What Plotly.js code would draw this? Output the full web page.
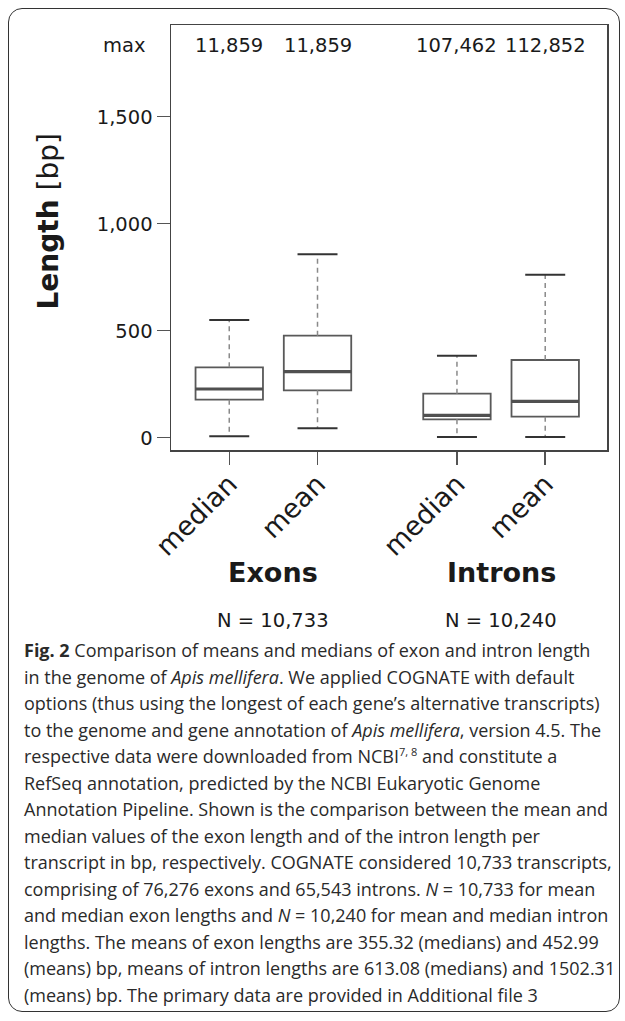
<!DOCTYPE html>
<html>
<head>
<meta charset="utf-8">
<script src="https://cdn.plot.ly/plotly-3.0.1.min.js"></script>
<style>
  html, body { margin: 0; padding: 0; background: #fff; }
  #wrap { position: relative; width: 625px; height: 1021px; overflow: hidden; }
  #frame { position: absolute; left: 8px; top: 8px; width: 612px; height: 1004px;
           border: 1.5px solid #333; border-radius: 14px; box-sizing: border-box; }
  #plot { position: absolute; left: 0; top: 0; width: 625px; height: 640px; }
  #caption { position: absolute; left: 24px; top: 637px; width: 596px;
             font-family: "Open Sans", "Noto Sans", sans-serif; font-size: 18px; line-height: 26.5px;
             color: #2a2a2a; letter-spacing: 0; }
  #caption div { white-space: nowrap; }
  #caption sup { font-size: 11px; line-height: 0; vertical-align: 7px; }
</style>
</head>
<body>
<div id="wrap">
  <div id="frame"></div>
  <div id="plot"></div>
  <div id="caption">
    <div><b>Fig. 2</b> Comparison of means and medians of exon and intron length</div>
    <div>in the genome of <i>Apis mellifera</i>. We applied COGNATE with default</div>
    <div>options (thus using the longest of each gene’s alternative transcripts)</div>
    <div>to the genome and gene annotation of <i>Apis mellifera</i>, version 4.5. The</div>
    <div>respective data were downloaded from NCBI<sup>7, 8</sup> and constitute a</div>
    <div>RefSeq annotation, predicted by the NCBI Eukaryotic Genome</div>
    <div>Annotation Pipeline. Shown is the comparison between the mean and</div>
    <div>median values of the exon length and of the intron length per</div>
    <div>transcript in bp, respectively. COGNATE considered 10,733 transcripts,</div>
    <div>comprising of 76,276 exons and 65,543 introns. <i>N</i> = 10,733 for mean</div>
    <div>and median exon lengths and <i>N</i> = 10,240 for mean and median intron</div>
    <div>lengths. The means of exon lengths are 355.32 (medians) and 452.99</div>
    <div>(means) bp, means of intron lengths are 613.08 (medians) and 1502.31</div>
    <div>(means) bp. The primary data are provided in Additional file 3</div>
  </div>
</div>
<script>
// ---- data ----
const categories = ["median", "mean", "median", "mean"];
const positions = [1, 2, 3.58, 4.58];
const lowerWhisker = [6.5, 44, 3, 3];
const q1 = [177.6, 221.5, 86, 98];
const medianVals = [227.6, 308.4, 104.5, 170];
const q3 = [329, 476.6, 205.6, 363];
const upperWhisker = [550, 857, 383, 761.7];
const maxLabels = ["11,859", "11,859", "107,462", "112,852"];
const groupNames = ["Exons", "Introns"];
const groupN = ["N = 10,733", "N = 10,240"];
const yTickVals = [0, 500, 1000, 1500];
const yTickText = ["0", "500", "1,000", "1,500"];

// ---- styles ----
const FONT = "DejaVu Sans";
const boxW = 0.764;
const capW = 0.453;
const traces = [];

positions.forEach((p, i) => {
  traces.push({
    type: "scatter", mode: "lines", hoverinfo: "skip", showlegend: false,
    x: [p, p, null, p, p],
    y: [q3[i], upperWhisker[i], null, q1[i], lowerWhisker[i]],
    line: { color: "#8a8a8a", width: 1.5, dash: "5px,4px" }
  });
  traces.push({
    type: "scatter", mode: "lines", hoverinfo: "skip", showlegend: false,
    x: [p - capW / 2, p + capW / 2, null, p - capW / 2, p + capW / 2],
    y: [upperWhisker[i], upperWhisker[i], null, lowerWhisker[i], lowerWhisker[i]],
    line: { color: "#333", width: 2 }
  });
  traces.push({
    type: "box", showlegend: false, hoverinfo: "skip",
    x: [p], q1: [q1[i]], median: [medianVals[i]], q3: [q3[i]],
    lowerfence: [q1[i]], upperfence: [q3[i]],
    width: boxW, fillcolor: "rgba(255,255,255,1)",
    line: { color: "#595959", width: 1.8 }, whiskerwidth: 0
  });
  traces.push({
    type: "scatter", mode: "lines", hoverinfo: "skip", showlegend: false,
    x: [p - boxW / 2, p + boxW / 2], y: [medianVals[i], medianVals[i]],
    line: { color: "#505050", width: 3.2 }
  });
});

const annotations = [];
annotations.push({ xref: "paper", yref: "y", x: -0.052, y: 1835, text: "max",
  showarrow: false, xanchor: "right", yanchor: "middle", font: { family: FONT, size: 19.5, color: "#1a1a1a" } });
positions.forEach((p, i) => {
  annotations.push({ xref: "x", yref: "y", x: p, y: 1835, text: maxLabels[i],
    showarrow: false, xanchor: "center", yanchor: "middle", font: { family: FONT, size: 19.5, color: "#1a1a1a" } });
});
groupNames.forEach((g, k) => {
  const mid = (positions[2 * k] + positions[2 * k + 1]) / 2;
  annotations.push({ xref: "x", yref: "paper", x: mid, y: -0.289, text: "<b>" + g + "</b>",
    showarrow: false, xanchor: "center", yanchor: "middle", font: { family: FONT, size: 27, color: "#1a1a1a" } });
  annotations.push({ xref: "x", yref: "paper", x: mid, y: -0.4, text: groupN[k],
    showarrow: false, xanchor: "center", yanchor: "middle", font: { family: FONT, size: 19.5, color: "#1a1a1a" } });
});
annotations.push({ xref: "paper", yref: "paper", x: -0.282, y: 0.5376, text: "<b>Length</b> [bp]",
  textangle: -90, showarrow: false, xanchor: "center", yanchor: "middle",
  font: { family: FONT, size: 28, color: "#1a1a1a" } });

const layout = {
  width: 625, height: 640,
  margin: { l: 171, r: 18, t: 25, b: 190, pad: 0 },
  paper_bgcolor: "rgba(0,0,0,0)", plot_bgcolor: "rgba(0,0,0,0)",
  showlegend: false,
  font: { family: FONT, color: "#1a1a1a" },
  xaxis: {
    range: [0.34, 5.28], tickvals: positions, ticktext: categories, tickangle: -45,
    ticks: "outside", ticklen: 13, tickwidth: 1.5, tickcolor: "#555",
    ticklabelstandoff: -7,
    tickfont: { family: FONT, size: 27, color: "#1a1a1a" },
    showline: true, mirror: true, linecolor: "#444", linewidth: 1.5,
    showgrid: false, zeroline: false, fixedrange: true
  },
  yaxis: {
    range: [-57.5, 1928.5], tickvals: yTickVals, ticktext: yTickText,
    ticks: "outside", ticklen: 13, tickwidth: 1.5, tickcolor: "#555",
    tickfont: { family: FONT, size: 19.5, color: "#1a1a1a" },
    showline: true, mirror: true, linecolor: "#444", linewidth: 1.5,
    showgrid: false, zeroline: false, fixedrange: true
  },
  annotations: annotations
};

Plotly.newPlot("plot", traces, layout, { displayModeBar: false, staticPlot: true });
</script>
</body>
</html>
